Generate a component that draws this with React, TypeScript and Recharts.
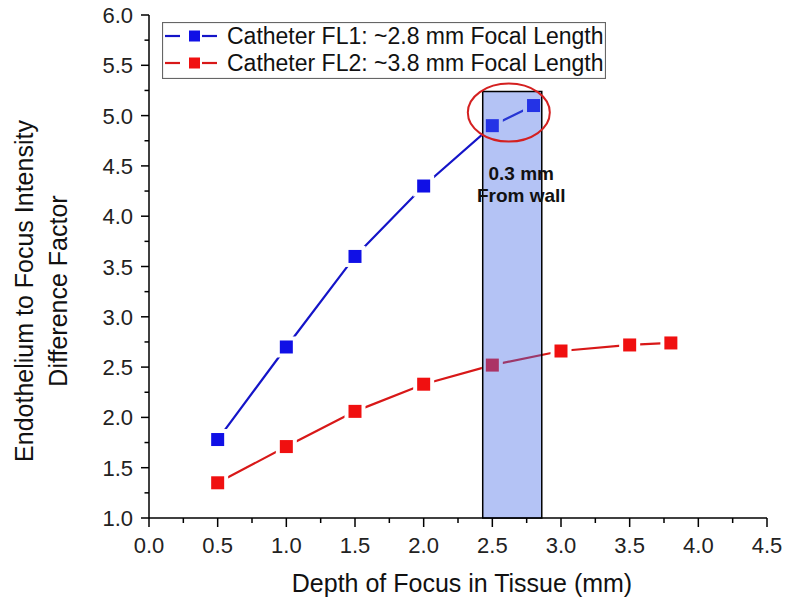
import {
  Legend,
  Line,
  LineChart,
  ReferenceArea,
  ReferenceDot,
  XAxis,
  YAxis,
} from "recharts";

const FONT = "'Liberation Sans', Arial, sans-serif";

// depth of focus (mm) vs endothelium/focus intensity factor
const fl1Depth = [0.5, 1.0, 1.5, 2.0, 2.5, 2.8];
const fl1Factor = [1.78, 2.7, 3.6, 4.3, 4.9, 5.1];
const fl2Depth = [0.5, 1.0, 1.5, 2.0, 2.5, 3.0, 3.5, 3.8];
const fl2Factor = [1.35, 1.71, 2.06, 2.33, 2.52, 2.66, 2.72, 2.74];

const seriesNames = [
  "Catheter FL1: ~2.8 mm Focal Length",
  "Catheter FL2: ~3.8 mm Focal Length",
];

const xMajor = [0, 0.5, 1, 1.5, 2, 2.5, 3, 3.5, 4, 4.5];
const xMinor = [0.25, 0.75, 1.25, 1.75, 2.25, 2.75, 3.25, 3.75, 4.25];
const yMajor = [1, 1.5, 2, 2.5, 3, 3.5, 4, 4.5, 5, 5.5, 6];
const yMinor = [1.25, 1.75, 2.25, 2.75, 3.25, 3.75, 4.25, 4.75, 5.25, 5.75];

// highlighted region, "0.3 mm from wall"
const bandX = [2.43, 2.86];
const bandTop = 5.24;
const circled = { x: 2.62, y: 5.03 };

const fl1 = fl1Depth.map((x, i) => ({ x, y: fl1Factor[i] }));
const fl2 = fl2Depth.map((x, i) => ({ x, y: fl2Factor[i] }));

const BLUE = "#1010e6";
const BLUE_LINE = "#1414c8";
const RED = "#f01010";
const RED_LINE = "#d81818";

const isMajor = (v: number) => Number.isInteger(Math.round(v * 100) / 50);

function XTick({ x, y, payload }: any) {
  const v = payload.value as number;
  const major = isMajor(v);
  return (
    <g>
      <line x1={x} x2={x} y1={y} y2={y + (major ? 9 : 5)} stroke="#000" strokeWidth={1.5} />
      {major && (
        <text x={x} y={y + 35} textAnchor="middle" fontSize={22} fill="#222" fontFamily={FONT}>
          {v.toFixed(1)}
        </text>
      )}
    </g>
  );
}

function YTick({ x, y, payload }: any) {
  const v = payload.value as number;
  const major = isMajor(v);
  return (
    <g>
      <line x1={x} x2={x - (major ? 8 : 4.5)} y1={y} y2={y} stroke="#000" strokeWidth={1.5} />
      {major && (
        <text x={x - 16} y={y + 8} textAnchor="end" fontSize={22} fill="#222" fontFamily={FONT}>
          {v.toFixed(1)}
        </text>
      )}
    </g>
  );
}

// square marker with a white halo so the line stops short of it
const squareDot = (fill: string) => (props: any) => {
  const { cx, cy, index } = props;
  return (
    <g key={index}>
      <rect x={cx - 10.5} y={cy - 10.5} width={21} height={21} fill="#fff" />
      <rect x={cx - 6.5} y={cy - 6.5} width={13} height={13} fill={fill} />
    </g>
  );
};

function LegendBox() {
  const rows = [
    { name: seriesNames[0], line: BLUE_LINE, fill: BLUE },
    { name: seriesNames[1], line: RED_LINE, fill: RED },
  ];
  return (
    <svg width={444} height={57} style={{ display: "block" }}>
      <rect x={0.5} y={0.5} width={443} height={56} fill="#fff" stroke="#666" strokeWidth={1.2} />
      {rows.map((r, i) => {
        const cy = 14 + i * 27;
        return (
          <g key={r.name}>
            <line x1={3} x2={18} y1={cy} y2={cy} stroke={r.line} strokeWidth={2.2} />
            <line x1={40} x2={55} y1={cy} y2={cy} stroke={r.line} strokeWidth={2.2} />
            <rect x={27} y={cy - 5.5} width={11} height={11} fill={r.fill} />
            <text x={65} y={cy + 8} fontSize={23} fill="#111" fontFamily={FONT}>
              {r.name}
            </text>
          </g>
        );
      })}
    </svg>
  );
}

function BandLabel({ viewBox }: any) {
  const cx = viewBox.x + viewBox.width / 2 + 9;
  const style = { fontSize: 19, fontWeight: 700, fill: "#111", fontFamily: FONT };
  return (
    <g>
      <text x={cx} y={viewBox.y + 89} textAnchor="middle" {...style}>
        0.3 mm
      </text>
      <text x={cx} y={viewBox.y + 111} textAnchor="middle" {...style}>
        From wall
      </text>
    </g>
  );
}

function XTitle() {
  return (
    <text x={462} y={592} textAnchor="middle" fontSize={25} fill="#111" fontFamily={FONT}>
      Depth of Focus in Tissue (mm)
    </text>
  );
}

function YTitle() {
  return (
    <g fontSize={25} fill="#111" fontFamily={FONT} textAnchor="middle">
      <text transform="translate(33,291) rotate(-90)">Endothelium to Focus Intensity</text>
      <text transform="translate(67,291) rotate(-90)">Difference Factor</text>
    </g>
  );
}

export default function App() {
  return (
    <div style={{ position: "absolute", left: 0, top: 0, width: 785, height: 604, background: "#fff" }}>
      <LineChart width={785} height={604} margin={{ top: 15, right: 18, bottom: 56, left: 89 }}>
        <XAxis
          type="number"
          dataKey="x"
          domain={[0, 4.5]}
          ticks={[...xMajor, ...xMinor].sort((a, b) => a - b)}
          interval={0}
          allowDataOverflow
          height={30}
          tickSize={0}
          tickMargin={0}
          tickLine={false}
          axisLine={{ stroke: "#000", strokeWidth: 1.5 }}
          tick={XTick}
          label={XTitle}
        />
        <YAxis
          type="number"
          dataKey="y"
          domain={[1, 6]}
          ticks={[...yMajor, ...yMinor].sort((a, b) => a - b)}
          interval={0}
          allowDataOverflow
          width={60}
          tickSize={0}
          tickMargin={0}
          tickLine={false}
          axisLine={{ stroke: "#000", strokeWidth: 1.5 }}
          tick={YTick}
          label={YTitle}
        />
        <Legend
          layout="vertical"
          align="center"
          verticalAlign="middle"
          wrapperStyle={{ left: 162, top: 22, width: 444, height: 57 }}
          content={LegendBox}
        />
        <Line
          data={fl1}
          dataKey="y"
          name={seriesNames[0]}
          stroke={BLUE_LINE}
          strokeWidth={2.2}
          dot={squareDot(BLUE)}
          activeDot={false}
          isAnimationActive={false}
        />
        <Line
          data={fl2}
          dataKey="y"
          name={seriesNames[1]}
          stroke={RED_LINE}
          strokeWidth={2.2}
          dot={squareDot(RED)}
          activeDot={false}
          isAnimationActive={false}
        />
        {/* translucent band sits above the markers so they show through tinted */}
        <ReferenceArea
          x1={bandX[0]}
          x2={bandX[1]}
          y1={1}
          y2={bandTop}
          fill="#4468e6"
          fillOpacity={0.4}
          stroke="#000"
          strokeWidth={1.5}
          strokeOpacity={1}
          zIndex={1500}
          label={BandLabel}
        />
        <ReferenceDot
          x={circled.x}
          y={circled.y}
          r={30}
          zIndex={1600}
          shape={(p: any) => (
            <ellipse cx={p.cx} cy={p.cy} rx={41} ry={29} fill="none" stroke="#d42020" strokeWidth={2} />
          )}
        />
      </LineChart>
    </div>
  );
}
